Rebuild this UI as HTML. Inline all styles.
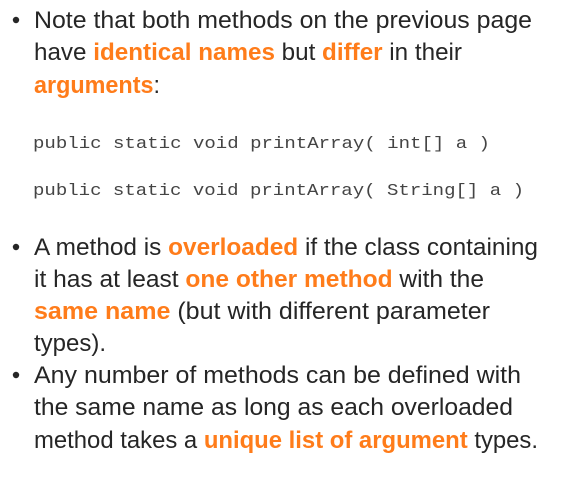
<!DOCTYPE html>
<html><head><meta charset="utf-8"><style>
html,body{margin:0;padding:0;background:#fff;width:577px;height:478px;overflow:hidden}
svg{display:block}
.t{font-family:"Liberation Sans",sans-serif;font-size:24px;fill:#262626}
.o{fill:#ff7c1a;font-weight:bold}
.c{font-family:"Liberation Mono",monospace;font-size:17px;fill:#444}
</style></head><body>
<svg width="577" height="478" xmlns="http://www.w3.org/2000/svg">
<g fill="#262626"><circle cx="16" cy="20" r="3.2"/><circle cx="16" cy="247" r="3.2"/><circle cx="16" cy="375" r="3.2"/></g>
<text class="t" x="34" y="28" textLength="498" lengthAdjust="spacingAndGlyphs">Note that both methods on the previous page</text>
<text class="t" x="34" y="60" textLength="428" lengthAdjust="spacingAndGlyphs">have <tspan class="o">identical names</tspan> but <tspan class="o">differ</tspan> in their</text>
<text class="t" x="34" y="93" textLength="126" lengthAdjust="spacingAndGlyphs"><tspan class="o">arguments</tspan>:</text>
<text class="c" x="33" y="148" textLength="457" lengthAdjust="spacingAndGlyphs" xml:space="preserve">public static void printArray( int[] a )</text>
<text class="c" x="33" y="195" textLength="491" lengthAdjust="spacingAndGlyphs" xml:space="preserve">public static void printArray( String[] a )</text>
<text class="t" x="34" y="255" textLength="504" lengthAdjust="spacingAndGlyphs">A method is <tspan class="o">overloaded</tspan> if the class containing</text>
<text class="t" x="34" y="287" textLength="450" lengthAdjust="spacingAndGlyphs">it has at least <tspan class="o">one other method</tspan> with the</text>
<text class="t" x="34" y="319" textLength="456" lengthAdjust="spacingAndGlyphs"><tspan class="o">same name</tspan> (but with different parameter</text>
<text class="t" x="34" y="351" textLength="72" lengthAdjust="spacingAndGlyphs">types).</text>
<text class="t" x="34" y="383" textLength="487" lengthAdjust="spacingAndGlyphs">Any number of methods can be defined with</text>
<text class="t" x="34" y="415" textLength="479" lengthAdjust="spacingAndGlyphs">the same name as long as each overloaded</text>
<text class="t" x="34" y="448" textLength="504" lengthAdjust="spacingAndGlyphs">method takes a <tspan class="o">unique list of argument</tspan> types.</text>
</svg>
</body></html>
